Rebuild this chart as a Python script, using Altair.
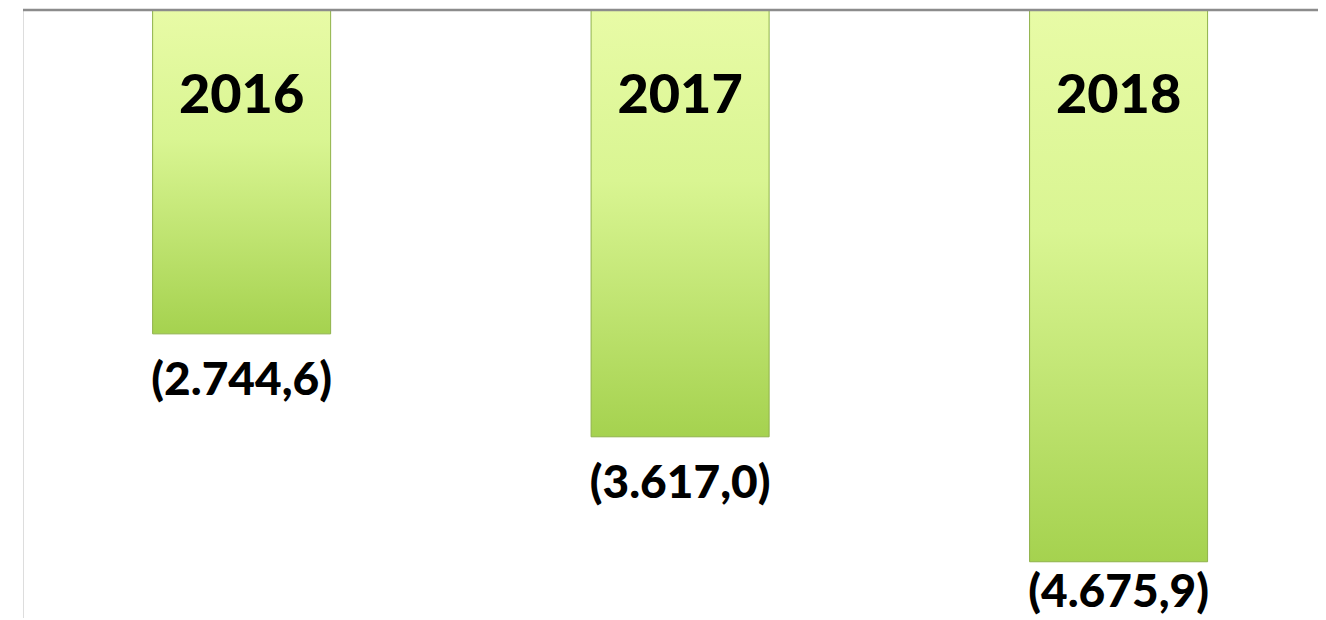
import altair as alt
import pandas as pd

years = ["2016", "2017", "2018"]
values = [-2744.6, -3617.0, -4675.9]
value_labels = ["(2.744,6)", "(3.617,0)", "(4.675,9)"]

df = pd.DataFrame({"year": years, "value": values, "label": value_labels, "zero": [0, 0, 0]})

PX_PER_UNIT = 0.118
PLOT_W = 1295
PLOT_H = 608

x_enc = alt.X(
    "year:N",
    sort=years,
    scale=alt.Scale(paddingInner=0.594, paddingOuter=0.2737, align=0.54),
    axis=None,
)
y_scale = alt.Scale(domain=[-PLOT_H / PX_PER_UNIT, 0], nice=False, zero=False)

base = alt.Chart(df)

zero_line = alt.Chart(pd.DataFrame({"zero": [0]})).mark_rule(
    color="#8c8c8c", strokeWidth=2.5
).encode(
    y=alt.Y("zero:Q", scale=y_scale, axis=None),
    x=alt.value(0),
    x2=alt.value(PLOT_W),
)

bars = base.mark_bar(
    color=alt.Gradient(
        gradient="linear",
        stops=[
            alt.GradientStop(color="#e8fba6", offset=0),
            alt.GradientStop(color="#d9f592", offset=0.4),
            alt.GradientStop(color="#a5d24f", offset=1),
        ],
        x1=0, x2=0, y1=0, y2=1,
    ),
    stroke="#8fb24a",
    strokeWidth=1,
).encode(
    x=x_enc,
    y=alt.Y("value:Q", scale=y_scale, axis=None),
    y2=alt.Y2("zero:Q"),
)

year_text = base.mark_text(
    font="Lato", fontWeight=900, fontSize=54, color="#000000",
    baseline="alphabetic", dy=103,
).encode(
    x=x_enc,
    y=alt.Y("zero:Q", scale=y_scale, axis=None),
    text="year:N",
)

val_text_a = base.transform_filter(alt.datum.year != "2018").mark_text(
    font="Lato", fontWeight=900, fontSize=46, color="#000000",
    baseline="alphabetic", dy=61,
).encode(
    x=x_enc,
    y=alt.Y("value:Q", scale=y_scale, axis=None),
    text="label:N",
)

val_text_b = base.transform_filter(alt.datum.year == "2018").mark_text(
    font="Lato", fontWeight=900, fontSize=46, color="#000000",
    baseline="alphabetic", dy=45,
).encode(
    x=x_enc,
    y=alt.Y("value:Q", scale=y_scale, axis=None),
    text="label:N",
)

chart = (
    alt.layer(bars, zero_line, year_text, val_text_a, val_text_b)
    .properties(
        width=PLOT_W,
        height=PLOT_H,
        padding={"left": 15, "top": 2, "right": 0, "bottom": 0},
        autosize=alt.AutoSizeParams(type="none"),
    )
    .configure_view(stroke="#ffffff", strokeWidth=3, fill="#ffffff")
    .configure(background="#ffffff")
)

chart.save("out.html", embed_options={"renderer": "svg", "actions": False})
